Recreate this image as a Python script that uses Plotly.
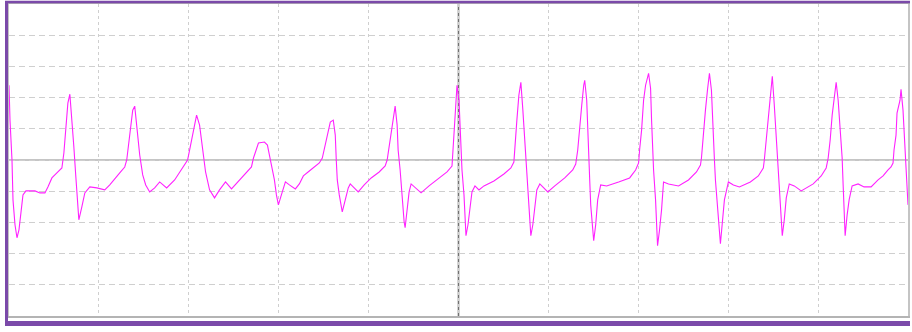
import plotly.graph_objects as go

# Trace samples (sample index) and amplitude (ADC counts, 0 = baseline)
sample_idx = [
    0, 1, 3, 4, 6, 8, 10, 12, 14, 17, 26, 31, 36, 39, 43, 49, 53, 55, 57, 59, 61, 63, 65, 67, 69, 70,
    73, 76, 81, 88, 96, 101, 111, 116,
    118, 121, 124, 126, 128, 131, 134, 137, 141, 146, 151, 158, 166, 171, 176,
    179, 183, 186, 188, 191, 194, 197, 201, 206, 211, 217, 223, 231, 239, 243,
    245, 247, 250, 256, 259, 261, 263, 266, 268, 270, 273, 277, 281, 287, 291, 295, 301, 307, 311,
    314, 317, 320, 322, 325, 327, 328, 329, 331, 333, 334, 337, 340, 342, 346, 350, 356, 363, 371, 377,
    379, 382, 384, 387, 389, 390, 392, 394, 396, 397, 399, 401, 403, 407, 413, 421, 431, 439, 444,
    445, 446, 447, 448, 449, 451, 452, 453, 454, 456, 457, 458, 460, 462, 464, 467, 471, 476, 486, 496, 503,
    506, 507, 509, 511, 513, 515, 517, 518, 520, 522, 523, 525, 527, 529, 532, 536, 540, 547, 557, 565, 568,
    570, 572, 574, 576, 577, 579, 580, 581, 582, 583, 585, 586, 588, 590, 593, 599, 611, 622, 628, 631,
    632, 634, 636, 638, 641, 643, 644, 645, 646, 648, 649, 650, 652, 654, 656, 661, 671, 681, 689, 693,
    694, 696, 698, 700, 702, 704, 705, 707, 708, 710, 712, 713, 715, 717, 721, 726, 732, 743, 751, 756,
    757, 760, 762, 764, 765, 767, 769, 771, 772, 774, 775, 777, 779, 782, 787, 794, 806, 814, 819,
    821, 823, 825, 827, 829, 831, 833, 835, 836, 837, 838, 840, 842, 845, 851, 857, 864, 871, 876, 881, 884, 886,
    887, 889, 890, 893, 894, 896, 898, 899, 901,
]
amplitude = [
    75, 40, 0, -40, -65, -78, -70, -50, -35, -31, -31, -33, -33, -27, -18, -12, -8, 7, 33, 57, 66, 43, 13, -17, -40, -60,
    -47, -33, -27, -28, -30, -25, -13, -7,
    0, 25, 50, 54, 35, 5, -15, -25, -32, -28, -22, -28, -20, -12, -5,
    0, 20, 35, 45, 35, 10, -12, -30, -38, -30, -22, -29, -20, -12, -7,
    2, 8, 17, 18, 15, 5, -5, -20, -35, -45, -35, -22, -25, -29, -24, -16, -11, -6, -3,
    2, 15, 30, 38, 40, 25, 0, -20, -35, -45, -52, -40, -28, -24, -28, -32, -25, -18, -12, -6,
    0, 20, 38, 54, 35, 10, -10, -40, -62, -68, -50, -32, -24, -28, -33, -26, -18, -12, -6,
    10, 35, 50, 70, 75, 60, 35, 10, -10, -35, -65, -76, -65, -45, -32, -26, -30, -26, -21, -14, -8,
    -2, 15, 40, 65, 78, 50, 20, -5, -35, -65, -76, -65, -45, -30, -24, -28, -32, -26, -18, -10, -4,
    10, 35, 55, 75, 80, 60, 25, 0, -20, -45, -75, -81, -65, -40, -25, -26, -22, -18, -10, -3,
    10, 30, 60, 75, 87, 72, 40, 12, -10, -40, -65, -86, -70, -50, -22, -24, -26, -20, -12, -5,
    2, 30, 50, 70, 87, 70, 42, 0, -20, -45, -78, -84, -62, -40, -22, -25, -27, -22, -16, -8,
    0, 30, 50, 70, 84, 55, 25, -5, -30, -60, -76, -60, -38, -24, -26, -31, -24, -16, -8,
    2, 20, 45, 62, 78, 60, 35, 2, -25, -50, -76, -55, -40, -26, -24, -27, -27, -20, -16, -10, -7, -3,
    10, 25, 47, 60, 71, 50, 17, -7, -45,
]

# Screen: 10 x 10 divisions
X_SPAN = 901
Y_HALF = 156.5
X_DIV = X_SPAN / 10
Y_DIV = 2 * Y_HALF / 10

W, H = 912, 332
ML, MR, MT, MB = 9, 2, 3, 16
PW, PH = W - ML - MR, H - MT - MB


def px_x(p):
    return (p - ML) / PW


def px_y(p):
    return (H - MB - p) / PH


PURPLE = "#7b4aa9"

fig = go.Figure()
fig.add_trace(go.Scatter(
    x=sample_idx, y=amplitude, mode="lines",
    line=dict(color="#ff22ff", width=1.1),
    hoverinfo="skip", showlegend=False,
))

shapes = [
    # centre cross-hair
    dict(type="line", xref="x", yref="paper", x0=X_SPAN / 2, x1=X_SPAN / 2, y0=0, y1=1,
         line=dict(color="#707070", width=1.6), layer="below"),
    dict(type="line", xref="paper", yref="y", x0=0, x1=1, y0=0, y1=0,
         line=dict(color="#8c8c8c", width=1.2), layer="below"),
    # outer purple frame
    dict(type="line", xref="paper", yref="paper", x0=px_x(6.5), x1=px_x(6.5), y0=px_y(0), y1=px_y(326),
         line=dict(color=PURPLE, width=3)),
    dict(type="line", xref="paper", yref="paper", x0=px_x(5), x1=px_x(912), y0=px_y(1), y1=px_y(1),
         line=dict(color=PURPLE, width=2.5)),
    dict(type="line", xref="paper", yref="paper", x0=px_x(5), x1=px_x(912), y0=px_y(323.5), y1=px_y(323.5),
         line=dict(color=PURPLE, width=5)),
]

fig.update_layout(
    width=W, height=H,
    margin=dict(l=ML, r=MR, t=MT, b=MB, pad=0),
    paper_bgcolor="white", plot_bgcolor="white",
    shapes=shapes,
    xaxis=dict(range=[0, X_SPAN], tick0=0, dtick=X_DIV, showticklabels=False, ticks="",
               showgrid=True, gridcolor="#cfcfcf", gridwidth=1, griddash="3px,3px",
               zeroline=False, showline=True, linecolor="#b4b4b4", linewidth=1.5, mirror=True,
               fixedrange=True),
    yaxis=dict(range=[-Y_HALF, Y_HALF], tick0=0, dtick=Y_DIV, showticklabels=False, ticks="",
               showgrid=True, gridcolor="#cfcfcf", gridwidth=1, griddash="6px,4px",
               zeroline=False, showline=True, linecolor="#c4c4c4", linewidth=1.5, mirror=True,
               fixedrange=True),
)

fig.write_html("out.html", config={"displayModeBar": False})
